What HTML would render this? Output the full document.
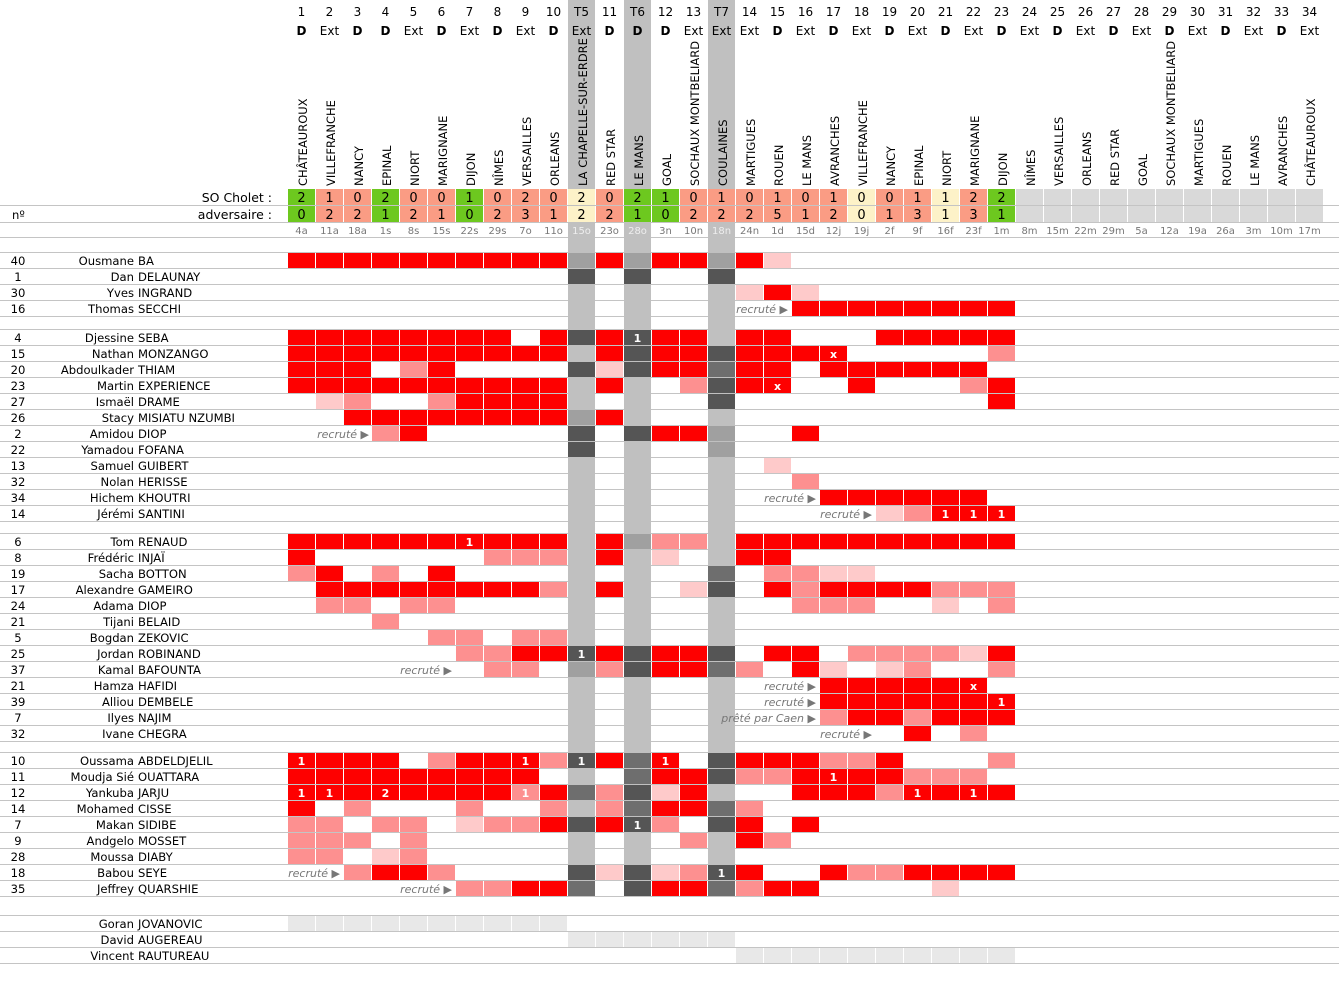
<!DOCTYPE html>
<html><head><meta charset="utf-8"><style>
html,body{margin:0;padding:0;background:#fff;width:1339px;height:1000px;overflow:hidden}
svg{display:block;font-family:"DejaVu Sans","Liberation Sans",sans-serif}
.n{font-size:11.6px;fill:#000}
.h{font-size:12px;fill:#000;text-anchor:middle}
.b{font-weight:bold}
.t{font-size:11.5px;fill:#000}
.s{font-size:13px;fill:#000;text-anchor:middle}
.d{font-size:10px;fill:#777;text-anchor:middle}
.c{font-size:11px;fill:#fff;font-weight:bold;text-anchor:middle}
.rc{font-size:11px;fill:#777;font-style:italic;text-anchor:end}
</style></head><body>
<svg id="g" width="1339" height="1000" xmlns="http://www.w3.org/2000/svg">
<g id="bg"></g>
<g id="cells"></g>
<!-- header numbers -->
<g class="h">
<text x="301.5" y="16">1</text><text x="329.5" y="16">2</text><text x="357.5" y="16">3</text><text x="385.5" y="16">4</text><text x="413.5" y="16">5</text><text x="441.5" y="16">6</text><text x="469.5" y="16">7</text><text x="497.5" y="16">8</text><text x="525.5" y="16">9</text><text x="553.5" y="16">10</text><text x="581.5" y="16">T5</text><text x="609.5" y="16">11</text><text x="637.5" y="16">T6</text><text x="665.5" y="16">12</text><text x="693.5" y="16">13</text><text x="721.5" y="16">T7</text><text x="749.5" y="16">14</text><text x="777.5" y="16">15</text><text x="805.5" y="16">16</text><text x="833.5" y="16">17</text><text x="861.5" y="16">18</text><text x="889.5" y="16">19</text><text x="917.5" y="16">20</text><text x="945.5" y="16">21</text><text x="973.5" y="16">22</text><text x="1001.5" y="16">23</text><text x="1029.5" y="16">24</text><text x="1057.5" y="16">25</text><text x="1085.5" y="16">26</text><text x="1113.5" y="16">27</text><text x="1141.5" y="16">28</text><text x="1169.5" y="16">29</text><text x="1197.5" y="16">30</text><text x="1225.5" y="16">31</text><text x="1253.5" y="16">32</text><text x="1281.5" y="16">33</text><text x="1309.5" y="16">34</text>
</g>
<g class="h">
<text x="301.5" y="35" class="b">D</text><text x="329.5" y="35">Ext</text><text x="357.5" y="35" class="b">D</text><text x="385.5" y="35" class="b">D</text><text x="413.5" y="35">Ext</text><text x="441.5" y="35" class="b">D</text><text x="469.5" y="35">Ext</text><text x="497.5" y="35" class="b">D</text><text x="525.5" y="35">Ext</text><text x="553.5" y="35" class="b">D</text><text x="581.5" y="35">Ext</text><text x="609.5" y="35" class="b">D</text><text x="637.5" y="35" class="b">D</text><text x="665.5" y="35" class="b">D</text><text x="693.5" y="35">Ext</text><text x="721.5" y="35">Ext</text><text x="749.5" y="35">Ext</text><text x="777.5" y="35" class="b">D</text><text x="805.5" y="35">Ext</text><text x="833.5" y="35" class="b">D</text><text x="861.5" y="35">Ext</text><text x="889.5" y="35" class="b">D</text><text x="917.5" y="35">Ext</text><text x="945.5" y="35" class="b">D</text><text x="973.5" y="35">Ext</text><text x="1001.5" y="35" class="b">D</text><text x="1029.5" y="35">Ext</text><text x="1057.5" y="35" class="b">D</text><text x="1085.5" y="35">Ext</text><text x="1113.5" y="35" class="b">D</text><text x="1141.5" y="35">Ext</text><text x="1169.5" y="35" class="b">D</text><text x="1197.5" y="35">Ext</text><text x="1225.5" y="35" class="b">D</text><text x="1253.5" y="35">Ext</text><text x="1281.5" y="35" class="b">D</text><text x="1309.5" y="35">Ext</text>
</g>
<!-- team names -->
<g class="t">
<text transform="translate(307,186) rotate(-90)">CHÂTEAUROUX</text>
<text transform="translate(335,186) rotate(-90)">VILLEFRANCHE</text>
<text transform="translate(363,186) rotate(-90)">NANCY</text>
<text transform="translate(391,186) rotate(-90)">EPINAL</text>
<text transform="translate(419,186) rotate(-90)">NIORT</text>
<text transform="translate(447,186) rotate(-90)">MARIGNANE</text>
<text transform="translate(475,186) rotate(-90)">DIJON</text>
<text transform="translate(503,186) rotate(-90)">NÎMES</text>
<text transform="translate(531,186) rotate(-90)">VERSAILLES</text>
<text transform="translate(559,186) rotate(-90)">ORLEANS</text>
<text transform="translate(587,186) rotate(-90)">LA CHAPELLE-SUR-ERDRE</text>
<text transform="translate(615,186) rotate(-90)">RED STAR</text>
<text transform="translate(643,186) rotate(-90)">LE MANS</text>
<text transform="translate(671,186) rotate(-90)">GOAL</text>
<text transform="translate(699,186) rotate(-90)">SOCHAUX MONTBELIARD</text>
<text transform="translate(727,186) rotate(-90)">COULAINES</text>
<text transform="translate(755,186) rotate(-90)">MARTIGUES</text>
<text transform="translate(783,186) rotate(-90)">ROUEN</text>
<text transform="translate(811,186) rotate(-90)">LE MANS</text>
<text transform="translate(839,186) rotate(-90)">AVRANCHES</text>
<text transform="translate(867,186) rotate(-90)">VILLEFRANCHE</text>
<text transform="translate(895,186) rotate(-90)">NANCY</text>
<text transform="translate(923,186) rotate(-90)">EPINAL</text>
<text transform="translate(951,186) rotate(-90)">NIORT</text>
<text transform="translate(979,186) rotate(-90)">MARIGNANE</text>
<text transform="translate(1007,186) rotate(-90)">DIJON</text>
<text transform="translate(1035,186) rotate(-90)">NÎMES</text>
<text transform="translate(1063,186) rotate(-90)">VERSAILLES</text>
<text transform="translate(1091,186) rotate(-90)">ORLEANS</text>
<text transform="translate(1119,186) rotate(-90)">RED STAR</text>
<text transform="translate(1147,186) rotate(-90)">GOAL</text>
<text transform="translate(1175,186) rotate(-90)">SOCHAUX MONTBELIARD</text>
<text transform="translate(1203,186) rotate(-90)">MARTIGUES</text>
<text transform="translate(1231,186) rotate(-90)">ROUEN</text>
<text transform="translate(1259,186) rotate(-90)">LE MANS</text>
<text transform="translate(1287,186) rotate(-90)">AVRANCHES</text>
<text transform="translate(1315,186) rotate(-90)">CHÂTEAUROUX</text>
</g>
<text x="272" y="202" class="n" text-anchor="end" style="font-size:12.5px">SO Cholet :</text>
<text x="272" y="219" class="n" text-anchor="end" style="font-size:12.5px">adversaire :</text>
<text x="12" y="219" class="n">nº</text>
<!-- scores -->
<g class="s">
<text x="301.5" y="202">2</text><text x="329.5" y="202">1</text><text x="357.5" y="202">0</text><text x="385.5" y="202">2</text><text x="413.5" y="202">0</text><text x="441.5" y="202">0</text><text x="469.5" y="202">1</text><text x="497.5" y="202">0</text><text x="525.5" y="202">2</text><text x="553.5" y="202">0</text><text x="581.5" y="202">2</text><text x="609.5" y="202">0</text><text x="637.5" y="202">2</text><text x="665.5" y="202">1</text><text x="693.5" y="202">0</text><text x="721.5" y="202">1</text><text x="749.5" y="202">0</text><text x="777.5" y="202">1</text><text x="805.5" y="202">0</text><text x="833.5" y="202">1</text><text x="861.5" y="202">0</text><text x="889.5" y="202">0</text><text x="917.5" y="202">1</text><text x="945.5" y="202">1</text><text x="973.5" y="202">2</text><text x="1001.5" y="202">2</text>
<text x="301.5" y="219">0</text><text x="329.5" y="219">2</text><text x="357.5" y="219">2</text><text x="385.5" y="219">1</text><text x="413.5" y="219">2</text><text x="441.5" y="219">1</text><text x="469.5" y="219">0</text><text x="497.5" y="219">2</text><text x="525.5" y="219">3</text><text x="553.5" y="219">1</text><text x="581.5" y="219">2</text><text x="609.5" y="219">2</text><text x="637.5" y="219">1</text><text x="665.5" y="219">0</text><text x="693.5" y="219">2</text><text x="721.5" y="219">2</text><text x="749.5" y="219">2</text><text x="777.5" y="219">5</text><text x="805.5" y="219">1</text><text x="833.5" y="219">2</text><text x="861.5" y="219">0</text><text x="889.5" y="219">1</text><text x="917.5" y="219">3</text><text x="945.5" y="219">1</text><text x="973.5" y="219">3</text><text x="1001.5" y="219">1</text>
</g>
<!-- dates -->
<g class="d">
<text x="301.5" y="234">4a</text><text x="329.5" y="234">11a</text><text x="357.5" y="234">18a</text><text x="385.5" y="234">1s</text><text x="413.5" y="234">8s</text><text x="441.5" y="234">15s</text><text x="469.5" y="234">22s</text><text x="497.5" y="234">29s</text><text x="525.5" y="234">7o</text><text x="553.5" y="234">11o</text><text x="581.5" y="234" fill="#eee">15o</text><text x="609.5" y="234">23o</text><text x="637.5" y="234" fill="#eee">28o</text><text x="665.5" y="234">3n</text><text x="693.5" y="234">10n</text><text x="721.5" y="234" fill="#eee">18n</text><text x="749.5" y="234">24n</text><text x="777.5" y="234">1d</text><text x="805.5" y="234">15d</text><text x="833.5" y="234">12j</text><text x="861.5" y="234">19j</text><text x="889.5" y="234">2f</text><text x="917.5" y="234">9f</text><text x="945.5" y="234">16f</text><text x="973.5" y="234">23f</text><text x="1001.5" y="234">1m</text><text x="1029.5" y="234">8m</text><text x="1057.5" y="234">15m</text><text x="1085.5" y="234">22m</text><text x="1113.5" y="234">29m</text><text x="1141.5" y="234">5a</text><text x="1169.5" y="234">12a</text><text x="1197.5" y="234">19a</text><text x="1225.5" y="234">26a</text><text x="1253.5" y="234">3m</text><text x="1281.5" y="234">10m</text><text x="1309.5" y="234">17m</text>
</g>
<!-- player names -->
<g class="n">
<g text-anchor="middle">
<text x="18" y="265">40</text><text x="18" y="281">1</text><text x="18" y="297">30</text><text x="18" y="313">16</text>
<text x="18" y="342">4</text><text x="18" y="358">15</text><text x="18" y="374">20</text><text x="18" y="390">23</text><text x="18" y="406">27</text><text x="18" y="422">26</text><text x="18" y="438">2</text><text x="18" y="454">22</text><text x="18" y="470">13</text><text x="18" y="486">32</text><text x="18" y="502">34</text><text x="18" y="518">14</text>
<text x="18" y="546">6</text><text x="18" y="562">8</text><text x="18" y="578">19</text><text x="18" y="594">17</text><text x="18" y="610">24</text><text x="18" y="626">21</text><text x="18" y="642">5</text><text x="18" y="658">25</text><text x="18" y="674">37</text><text x="18" y="690">21</text><text x="18" y="706">39</text><text x="18" y="722">7</text><text x="18" y="738">32</text>
<text x="18" y="765">10</text><text x="18" y="781">11</text><text x="18" y="797">12</text><text x="18" y="813">14</text><text x="18" y="829">7</text><text x="18" y="845">9</text><text x="18" y="861">28</text><text x="18" y="877">18</text><text x="18" y="893">35</text>
</g>
<g text-anchor="end">
<text x="134" y="265">Ousmane</text><text x="134" y="281">Dan</text><text x="134" y="297">Yves</text><text x="134" y="313">Thomas</text>
<text x="134" y="342">Djessine</text><text x="134" y="358">Nathan</text><text x="134" y="374">Abdoulkader</text><text x="134" y="390">Martin</text><text x="134" y="406">Ismaël</text><text x="134" y="422">Stacy</text><text x="134" y="438">Amidou</text><text x="134" y="454">Yamadou</text><text x="134" y="470">Samuel</text><text x="134" y="486">Nolan</text><text x="134" y="502">Hichem</text><text x="134" y="518">Jérémi</text>
<text x="134" y="546">Tom</text><text x="134" y="562">Frédéric</text><text x="134" y="578">Sacha</text><text x="134" y="594">Alexandre</text><text x="134" y="610">Adama</text><text x="134" y="626">Tijani</text><text x="134" y="642">Bogdan</text><text x="134" y="658">Jordan</text><text x="134" y="674">Kamal</text><text x="134" y="690">Hamza</text><text x="134" y="706">Alliou</text><text x="134" y="722">Ilyes</text><text x="134" y="738">Ivane</text>
<text x="134" y="765">Oussama</text><text x="134" y="781">Moudja Sié</text><text x="134" y="797">Yankuba</text><text x="134" y="813">Mohamed</text><text x="134" y="829">Makan</text><text x="134" y="845">Andgelo</text><text x="134" y="861">Moussa</text><text x="134" y="877">Babou</text><text x="134" y="893">Jeffrey</text>
<text x="134" y="928">Goran</text><text x="134" y="944">David</text><text x="134" y="960">Vincent</text>
</g>
<g>
<text x="138" y="265">BA</text><text x="138" y="281">DELAUNAY</text><text x="138" y="297">INGRAND</text><text x="138" y="313">SECCHI</text>
<text x="138" y="342">SEBA</text><text x="138" y="358">MONZANGO</text><text x="138" y="374">THIAM</text><text x="138" y="390">EXPERIENCE</text><text x="138" y="406">DRAME</text><text x="138" y="422">MISIATU NZUMBI</text><text x="138" y="438">DIOP</text><text x="138" y="454">FOFANA</text><text x="138" y="470">GUIBERT</text><text x="138" y="486">HERISSE</text><text x="138" y="502">KHOUTRI</text><text x="138" y="518">SANTINI</text>
<text x="138" y="546">RENAUD</text><text x="138" y="562">INJAÏ</text><text x="138" y="578">BOTTON</text><text x="138" y="594">GAMEIRO</text><text x="138" y="610">DIOP</text><text x="138" y="626">BELAID</text><text x="138" y="642">ZEKOVIC</text><text x="138" y="658">ROBINAND</text><text x="138" y="674">BAFOUNTA</text><text x="138" y="690">HAFIDI</text><text x="138" y="706">DEMBELE</text><text x="138" y="722">NAJIM</text><text x="138" y="738">CHEGRA</text>
<text x="138" y="765">ABDELDJELIL</text><text x="138" y="781">OUATTARA</text><text x="138" y="797">JARJU</text><text x="138" y="813">CISSE</text><text x="138" y="829">SIDIBE</text><text x="138" y="845">MOSSET</text><text x="138" y="861">DIABY</text><text x="138" y="877">SEYE</text><text x="138" y="893">QUARSHIE</text>
<text x="138" y="928">JOVANOVIC</text><text x="138" y="944">AUGEREAU</text><text x="138" y="960">RAUTUREAU</text>
</g>
</g>
<!-- recruté labels -->
<g class="rc">
<text x="788" y="313">recruté ▶</text>
<text x="369" y="438">recruté ▶</text>
<text x="816" y="502">recruté ▶</text>
<text x="872" y="518">recruté ▶</text>
<text x="452" y="674">recruté ▶</text>
<text x="816" y="690">recruté ▶</text>
<text x="816" y="706">recruté ▶</text>
<text x="816" y="722">prêté par Caen ▶</text>
<text x="872" y="738">recruté ▶</text>
<text x="340" y="877">recruté ▶</text>
<text x="452" y="893">recruté ▶</text>
</g>
<!-- cell numbers -->
<g class="c">
<text x="637.5" y="342">1</text>
<text x="833.5" y="358">x</text>
<text x="777.5" y="390">x</text>
<text x="945.5" y="518">1</text><text x="973.5" y="518">1</text><text x="1001.5" y="518">1</text>
<text x="469.5" y="546">1</text>
<text x="581.5" y="658">1</text>
<text x="973.5" y="690">x</text>
<text x="1001.5" y="706">1</text>
<text x="301.5" y="765">1</text><text x="525.5" y="765">1</text><text x="581.5" y="765">1</text><text x="665.5" y="765">1</text>
<text x="833.5" y="781">1</text>
<text x="301.5" y="797">1</text><text x="329.5" y="797">1</text><text x="385.5" y="797">2</text><text x="525.5" y="797">1</text><text x="917.5" y="797">1</text><text x="973.5" y="797">1</text>
<text x="637.5" y="829">1</text>
<text x="721.5" y="877">1</text>
</g>
</svg>
<script>
(function(){
var NS="http://www.w3.org/2000/svg";
var bg=document.getElementById("bg"),cl=document.getElementById("cells");
function R(p,x,y,w,h,f){var r=document.createElementNS(NS,"rect");r.setAttribute("x",x);r.setAttribute("y",y);r.setAttribute("width",w);r.setAttribute("height",h);r.setAttribute("fill",f);p.appendChild(r);}
function L(y){R(bg,0,y,1339,1,"#c4c4c4");}
// lines
[205,222,237,252].forEach(L);
function grp(y0,n){for(var k=0;k<=n;k++)L(y0+16*k);}
grp(252,4);grp(329,12);grp(533,13);grp(752,9);grp(915,3);
// grey T strips
[10,12,15].forEach(function(i){R(bg,288+28*i,0,27,896,"#c0c0c0");});
// scores
var sc="GSSGSSGSSSYSGGSSSSSSYSSYSGNNNNNNNNNNN";
var SC={G:"#6dc81f",S:"#fa9c84",Y:"#fdf2c8",N:"#d9d9d9"};
for(var i=0;i<37;i++){R(cl,288+28*i,189,27,16,SC[sc[i]]);R(cl,288+28*i,206,27,16,SC[sc[i]]);}
var C={R:"#fe0000",r:"#fd9090",p:"#fecaca",m:"#a0a0a0",d:"#555555",e:"#6e6e6e",w:"#e8e8e8"};
function rows(y0,arr){arr.forEach(function(s,k){for(var i=0;i<s.length;i++){var c=s[i];if(C[c])R(cl,288+28*i,y0+16*k+1,27,15,C[c]);}});}
rows(252,[
"RRRRRRRRRRmRmRRmRp",
"..........d.d..d",
"................pRp",
"..................RRRRRRRR"]);
rows(329,[
"RRRRRRRR.RdRdRR.RR...RRRRR",
"RRRRRRRRRR.RdRRdRRRR.....r",
"RRR.rR....dpdRReRR.RRRRRR.",
"RRRRRRRRRR.R..rdRR..R...rR",
".pr..rRRRR.....d.........R",
"..RRRRRRRRmR",
"...rR.....d.dRRm..R",
"..........d....m",
".................p",
"..................r",
"...................RRRRRR",
".....................prRRR"]);
rows(533,[
"RRRRRRRRRR.Rmrr.RRRRRRRRRR",
"R......rrr.R.p..RR",
"rR.r.R.........e.rrpp",
".RRRRRRRRr.R..pd.RrRRRRrrr",
".rr.rr............rrr..p.r",
"...r",
".....rr.rr",
"......rrRRdRdRRd.RR.rrrrpR",
".......rr.mrdRRer.Rp.pr..r",
"...................RRRRRR",
"...................RRRRRRR",
"...................rRRrRRR",
"......................R.r"]);
rows(752,[
"RRRR.rRRRrdReR.dRRRrrR...r",
"RRRRRRRRR...eRRdrrRRRRrrr.",
"RRRRRRRRrRerdpR...RRRrRRRR",
"R.r...r..r.reRRer",
"rr.rr.prrRdRdr.dR.R",
"rrr.r.........r.Rr",
"rr.pr",
"..rRRr....dpdprdR..RrrRRRR",
"......rrRRe.dRRerRR....p"]);
rows(915,[
"wwwwwwwwww",
"..........wwwwww",
"................wwwwwwwwww"]);
})();
</script>
</body></html>
